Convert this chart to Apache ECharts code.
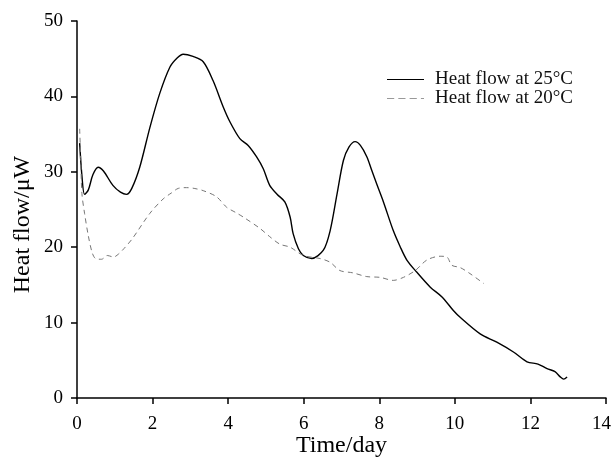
<!DOCTYPE html>
<html><head><meta charset="utf-8">
<script src="https://cdn.jsdelivr.net/npm/echarts@6/dist/echarts.min.js"></script>
<style>html,body{margin:0;padding:0;background:#fff}#c{width:613px;height:461px}</style>
</head><body><div id="c"></div>
<script>
var xTicks = [0, 2, 4, 6, 8, 10, 12, 14];
var yTicks = [0, 10, 20, 30, 40, 50];
var seriesNames = ['Heat flow at 25°C', 'Heat flow at 20°C'];

var t25 = [0.07,0.13,0.2,0.3,0.42,0.56,0.7,0.95,1.15,1.31,1.45,1.66,1.93,2.19,2.46,2.65,2.81,3.07,3.34,3.6,3.87,4.05,4.31,4.53,4.75,4.93,5.1,5.3,5.5,5.64,5.72,5.86,5.99,6.21,6.52,6.7,6.88,7.05,7.2,7.36,7.5,7.67,7.8,7.93,8.11,8.37,8.55,8.73,8.99,9.35,9.66,9.96,10.14,10.67,11.11,11.55,11.91,12.2,12.44,12.65,12.79,12.88,12.97];
var q25 = [33.8,29.5,27.0,27.6,29.6,30.6,30.1,28.2,27.3,27.0,27.8,30.6,35.9,40.4,43.9,45.1,45.6,45.3,44.6,42.1,38.6,36.6,34.4,33.5,32.0,30.4,28.2,27.0,26.0,24.0,21.8,19.8,18.9,18.5,19.6,22.2,27.0,31.5,33.3,34.0,33.5,32.0,30.2,28.4,26.0,22.2,20.1,18.3,16.7,14.7,13.4,11.6,10.7,8.5,7.4,6.1,4.8,4.5,3.9,3.5,2.8,2.5,2.8];

var t20 = [0.07,0.1,0.13,0.2,0.3,0.4,0.49,0.65,0.8,0.97,1.1,1.24,1.46,1.93,2.28,2.5,2.68,2.9,3.1,3.34,3.69,3.96,4.2,4.4,4.84,5.1,5.37,5.64,5.99,6.43,6.7,6.96,7.3,7.67,8.02,8.37,8.64,8.95,9.26,9.61,9.79,9.92,10.14,10.4,10.76];
var q20 = [35.7,31.5,27.1,24.5,21.5,19.3,18.5,18.4,18.9,18.7,19.1,19.8,21.1,24.5,26.4,27.2,27.8,27.9,27.8,27.5,26.7,25.3,24.6,24.0,22.5,21.4,20.4,20.0,18.9,18.5,18.0,16.9,16.6,16.1,16.0,15.6,16.0,16.9,18.3,18.8,18.7,17.6,17.3,16.5,15.2];

function pairs(xs, ys){ var out=[]; for(var i=0;i<xs.length;i++) out.push([xs[i], ys[i]]); return out; }

var font = 'Liberation Serif';
var chart = echarts.init(document.getElementById('c'), null, {renderer:'canvas'});
chart.setOption({
  animation: false,
  backgroundColor: '#fff',
  grid: {left: 77, right: 7, top: 21, bottom: 63, containLabel: false, outerBoundsMode: 'none'},
  legend: {
    orient: 'vertical', left: 387, top: 70, padding: 0, itemWidth: 37, itemHeight: 2, itemGap: 0,
    textStyle: {fontFamily: font, fontSize: 19, color: '#111', padding: [0, 0, 0, 6]},
    data: [
      {name: seriesNames[0], icon: 'path://M0,0L36,0L36,1L0,1Z', itemStyle:{color:'#000'}},
      {name: seriesNames[1], icon: 'path://M0,0h7v1h-7z M11,0h7v1h-7z M22,0h7v1h-7z M33,0h3v1h-3z', itemStyle:{color:'#999'}}
    ]
  },
  xAxis: {
    type: 'value', min: 0, max: 14, interval: 2,
    name: 'Time/day', nameLocation: 'middle', nameGap: 36, nameMoveOverlap: false,
    nameTextStyle: {fontFamily: font, fontSize: 24, color: '#000'},
    axisLine: {show: true, lineStyle: {color: '#000', width: 1.5}},
    axisTick: {show: true, inside: false, length: 6, lineStyle: {color: '#000', width: 1.5}},
    axisLabel: {
      fontFamily: font, fontSize: 19, color: '#000', margin: 17,
      formatter: function (v) { return v === 14 ? '{last|' + v + '}' : String(v); },
      rich: {last: {fontFamily: font, fontSize: 19, color: '#000', padding: [0, 9, 0, 0]}}
    },
    splitLine: {show: false}
  },
  yAxis: {
    type: 'value', min: 0, max: 50, interval: 10,
    name: 'Heat flow/μW', nameLocation: 'middle', nameGap: 42, nameMoveOverlap: false,
    nameTextStyle: {fontFamily: font, fontSize: 24, color: '#000', padding: [0, 30, 0, 0]},
    axisLine: {show: true, lineStyle: {color: '#000', width: 1.5}},
    axisTick: {show: true, inside: false, length: 6, lineStyle: {color: '#000', width: 1.5}},
    axisLabel: {fontFamily: font, fontSize: 19, color: '#000', margin: 14},
    splitLine: {show: false}
  },
  series: [
    {name: seriesNames[0], type: 'line', data: pairs(t25, q25), symbol: 'none', smooth: 0.3,
     lineStyle: {color: '#000', width: 1.4}, itemStyle:{color:'#000'}},
    {name: seriesNames[1], type: 'line', data: pairs(t20, q20), symbol: 'none', smooth: 0.3,
     lineStyle: {color: '#777', width: 1, type: [5, 4]}, itemStyle:{color:'#777'}}
  ]
});
</script></body></html>
